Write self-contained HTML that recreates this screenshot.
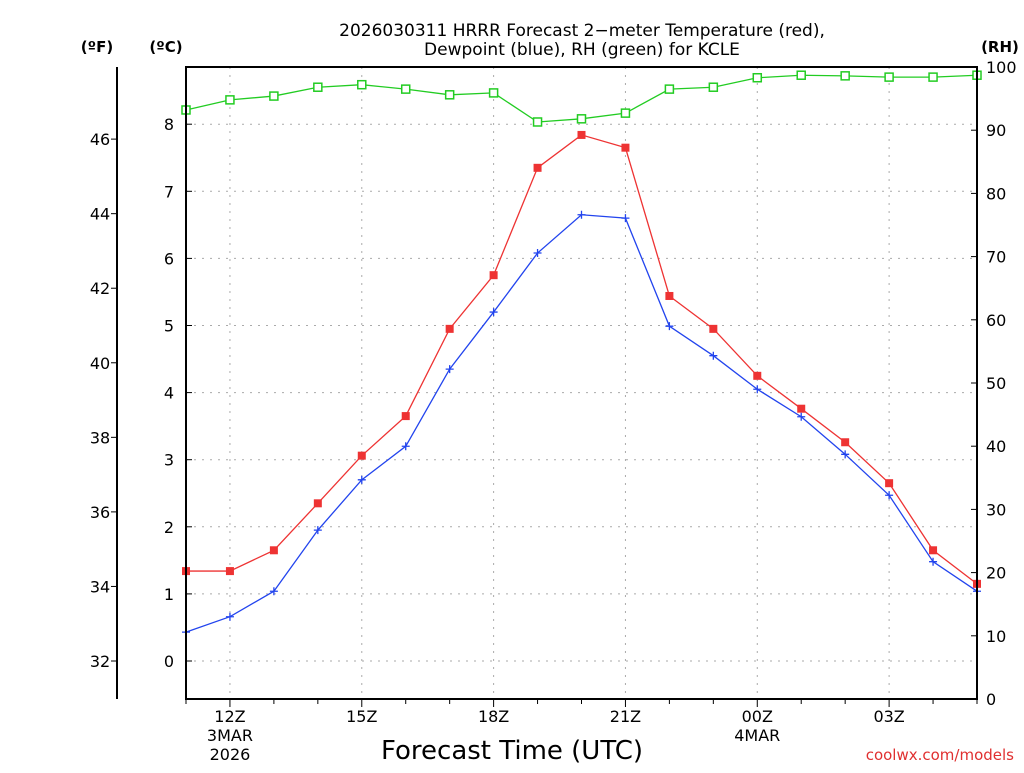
<!DOCTYPE html>
<html><head><meta charset="utf-8"><style>
body{margin:0;background:#fff}
svg text{font-family:"DejaVu Sans","Liberation Sans",sans-serif}
</style></head><body>
<svg id="c" width="1024" height="768" xmlns="http://www.w3.org/2000/svg">
<text x="582" y="36" text-anchor="middle" font-size="17">2026030311 HRRR Forecast 2−meter Temperature (red),</text>
<text x="582" y="55" text-anchor="middle" font-size="17">Dewpoint (blue), RH (green) for KCLE</text>
<text x="97" y="52" text-anchor="middle" font-size="15" font-weight="bold">(ºF)</text>
<text x="166" y="52" text-anchor="middle" font-size="15" font-weight="bold">(ºC)</text>
<text x="1000" y="52" text-anchor="middle" font-size="15" font-weight="bold">(RH)</text>
<text x="512" y="759" text-anchor="middle" font-size="26">Forecast Time (UTC)</text>
<text x="1014" y="760" text-anchor="end" font-size="15" fill="#e03030">coolwx.com/models</text>
<g id="grid"></g><g id="axes"></g><g id="series"></g>
<rect x="186" y="67" width="791" height="632" fill="none" stroke="#000" stroke-width="2"/>
</svg>
<script>
const hours=[11,12,13,14,15,16,17,18,19,20,21,22,23,24,25,26,27,28,29];
const tempC=[1.34,1.34,1.65,2.35,3.06,3.65,4.95,5.75,7.35,7.84,7.65,5.44,4.95,4.25,3.76,3.26,2.65,1.65,1.15];
const dewC=[0.43,0.66,1.04,1.95,2.70,3.20,4.35,5.20,6.08,6.65,6.60,4.99,4.55,4.05,3.64,3.08,2.47,1.48,1.04];
const rh=[93.2,94.8,95.4,96.8,97.2,96.5,95.6,95.9,91.3,91.8,92.7,96.5,96.8,98.3,98.7,98.6,98.4,98.4,98.7];
const cTicks=[0,1,2,3,4,5,6,7,8];
const fTicks=[32,34,36,38,40,42,44,46];
const rhTicks=[0,10,20,30,40,50,60,70,80,90,100];
const xTickHours=[12,15,18,21,24,27];
const xTickLabels=["12Z","15Z","18Z","21Z","00Z","03Z"];
const NS="http://www.w3.org/2000/svg";
const X=h=>186+(h-11)*(791/18);
const YC=c=>661-c*67.1;
const YR=r=>699-r*6.32;
function mk(t,a,p){const e=document.createElementNS(NS,t);for(const k in a)e.setAttribute(k,a[k]);p.appendChild(e);return e;}
const grid=document.getElementById('grid'),axes=document.getElementById('axes'),ser=document.getElementById('series');
cTicks.forEach(c=>{const y=YC(c);
 const g=mk('line',{x1:186,x2:977,y1:y,y2:y,stroke:'#aaa','stroke-dasharray':'2,6'},grid);
 
 
 const t=mk('text',{x:174,y:y+6,'text-anchor':'end','font-size':16},axes);t.textContent=c;
 
 
 mk('line',{x1:186,x2:192,y1:y,y2:y,stroke:'#000'},axes);});
xTickHours.forEach((h,i)=>{const x=X(h);
 const g=mk('line',{x1:x,x2:x,y1:67,y2:699,stroke:'#aaa','stroke-dasharray':'2,6'},grid);
 
 
 mk('line',{x1:x,x2:x,y1:699,y2:707,stroke:'#000'},axes);
 const t=mk('text',{x:x,y:722,'text-anchor':'middle','font-size':16},axes);t.textContent=xTickLabels[i];
 
 });
hours.forEach(h=>{if(!xTickHours.includes(h))mk('line',{x1:X(h),x2:X(h),y1:699,y2:704,stroke:'#000'},axes);});
[["3MAR",12,741],["2026",12,760],["4MAR",24,741]].forEach(d=>{const t=mk('text',{x:X(d[1]),y:d[2],'text-anchor':'middle','font-size':16},axes);t.textContent=d[0];
 
 });
mk('line',{x1:117,x2:117,y1:67,y2:699,stroke:'#000','stroke-width':2},axes);
fTicks.forEach(f=>{const y=YC((f-32)*5/9);
 mk('line',{x1:111,x2:117,y1:y,y2:y,stroke:'#000'},axes);
 const t=mk('text',{x:100,y:y+6,'text-anchor':'middle','font-size':16},axes);t.textContent=f;
 
 });
rhTicks.forEach(r=>{const y=YR(r);
 mk('line',{x1:971,x2:977,y1:y,y2:y,stroke:'#000'},axes);
 const t=mk('text',{x:986,y:y+6,'font-size':16},axes);t.textContent=r;
 
 });
function line(vals,yf,col,name){const p=mk('polyline',{points:vals.map((v,i)=>X(hours[i])+','+yf(v)).join(' '),fill:'none',stroke:col,'stroke-width':1.3},ser);
 
 }
line(rh,YR,'#22cc22','rh-line');line(tempC,YC,'#ee3333','temperature-line');line(dewC,YC,'#2244ee','dewpoint-line');
rh.forEach((v,i)=>{const m=mk('rect',{x:X(hours[i])-4,y:YR(v)-4,width:8,height:8,fill:'#fff',stroke:'#22cc22','stroke-width':1.5},ser);
 
 });
tempC.forEach((v,i)=>{const m=mk('rect',{x:X(hours[i])-4,y:YC(v)-4,width:8,height:8,fill:'#ee3333'},ser);
 
 });
dewC.forEach((v,i)=>{const x=X(hours[i]),y=YC(v);const m=mk('path',{d:`M${x-4},${y}H${x+4}M${x},${y-4}V${y+4}`,stroke:'#2244ee','stroke-width':1.3},ser);
 
 });
</script>
</body></html>
